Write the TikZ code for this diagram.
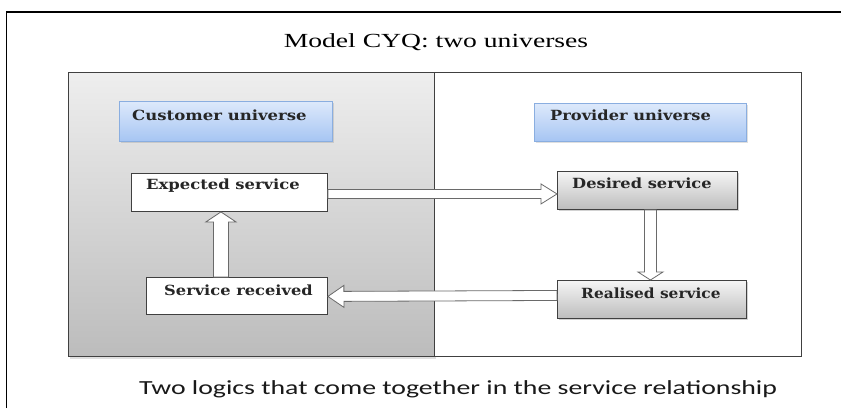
\documentclass[tikz,border=0pt]{standalone}
\usepackage{fontspec}
\setmainfont{Liberation Serif}
\newfontfamily\boxfont{DejaVu Serif}
\newfontfamily\capfont{Carlito}
\usetikzlibrary{calc,shadows}
\definecolor{panelTop}{HTML}{EEEEEE}
\definecolor{panelBot}{HTML}{BCBCBC}
\definecolor{blueTop}{HTML}{DDE9FB}
\definecolor{blueBot}{HTML}{A6C5F3}
\definecolor{blueEdge}{HTML}{8AAEE0}
\definecolor{greyTop}{HTML}{F5F5F5}
\definecolor{greyBot}{HTML}{BDBDBD}
\definecolor{edge}{HTML}{404040}
\definecolor{arrEdge}{HTML}{6A6A6A}
\newcommand\wide[2]{\scalebox{#1}[1]{#2}}
\tikzset{
  panel/.style={draw=edge, line width=1pt, inner sep=0pt, anchor=north west},
  bluebox/.style={draw=blueEdge, line width=0.8pt, top color=blueTop, bottom color=blueBot, inner sep=0pt, anchor=north west,
     drop shadow={shadow xshift=1.5pt, shadow yshift=-1.5pt, opacity=0.25}},
  whitebox/.style={draw=edge, line width=0.9pt, fill=white, inner sep=0pt, anchor=north west},
  greybox/.style={draw=edge, line width=0.9pt, top color=greyTop, bottom color=greyBot, inner sep=0pt, anchor=north west,
     drop shadow={shadow xshift=2pt, shadow yshift=-2pt, opacity=0.35}},
  boxtext/.style={anchor=base west, inner sep=0pt, font=\boxfont\bfseries\fontsize{14}{16}\selectfont, text=black!85},
  barrow/.style={draw=arrEdge, fill=white, line width=0.8pt, line join=miter}
}
% block arrow: #1 from, #2 to, #3 shaft half width, #4 head half width, #5 head length
\newcommand\blockarrow[5]{%
  \draw[barrow] let \p1=(#1), \p2=(#2), \n1={atan2(\y2-\y1,\x2-\x1)}, \n2={veclen(\x2-\x1,\y2-\y1)} in
    [shift={(\p1)}, rotate=\n1]
    (0pt,-#3) -- ({\n2*1pt-#5},-#3) -- ({\n2*1pt-#5},-#4) -- ({\n2*1pt},0pt)
    -- ({\n2*1pt-#5},#4) -- ({\n2*1pt-#5},#3) -- (0pt,#3) -- cycle;}
\begin{document}
\begin{tikzpicture}[x=1pt,y=-1pt]
\useasboundingbox (0,0) rectangle (841,408);
\fill[white] (0,0) rectangle (841,408);
% outer frame (cut by the page on the right and bottom)
\draw[line width=1.5pt] (6.5,408) -- (6.5,12) -- (841,12);
% title
\node[anchor=base, inner sep=0pt, font=\fontsize{20}{24}\selectfont] (title) at (436,47) {\wide{1.38}{Model CYQ: two universes}};
% panels
\node[panel, minimum width=366pt, minimum height=284pt, top color=panelTop, bottom color=panelBot,
  drop shadow={shadow xshift=1pt, shadow yshift=-2pt, opacity=0.25}] (left) at (68,72) {};
\node[panel, minimum width=367pt, minimum height=284pt, fill=white] (right) at (434,72) {};
% universe labels
\node[bluebox, minimum width=213pt, minimum height=40pt] (cust) at (119,101) {};
\node[boxtext] (custT) at ([shift={(13pt,-19pt)}]cust.north west) {\wide{1.18}{Customer universe}};
\node[bluebox, minimum width=212pt, minimum height=38pt] (prov) at (534,103) {};
\node[boxtext] (provT) at ([shift={(16pt,-17pt)}]prov.north west) {\wide{1.16}{Provider universe}};
% service boxes
\node[whitebox, minimum width=196pt, minimum height=38pt] (exp) at (131,173) {};
\node[boxtext] (expT) at ([shift={(15pt,-16pt)}]exp.north west) {\wide{1.17}{Expected service}};
\node[whitebox, minimum width=181pt, minimum height=37pt] (rec) at (146,277) {};
\node[boxtext] (recT) at ([shift={(18pt,-18pt)}]rec.north west) {\wide{1.16}{Service received}};
\node[greybox, minimum width=180pt, minimum height=38pt] (des) at (557,171) {};
\node[boxtext] (desT) at ([shift={(15pt,-17pt)}]des.north west) {\wide{1.16}{Desired service}};
\node[greybox, minimum width=189pt, minimum height=38pt] (rea) at (557,280) {};
\node[boxtext] (reaT) at ([shift={(24pt,-18pt)}]rea.north west) {\wide{1.10}{Realised service}};
% block arrows
\blockarrow{[yshift=-1.5pt]exp.east}{[yshift=-1.5pt]exp.east -| des.west}{4.5pt}{10pt}{16pt}
\blockarrow{[yshift=4pt]rea.west}{[yshift=-0.5pt]rec.east}{5pt}{11pt}{16pt}
\blockarrow{[xshift=-16pt]rec.north}{[xshift=-16pt]rec.north |- exp.south}{7.5pt}{15pt}{10pt}
\blockarrow{[xshift=3pt]des.south}{[xshift=3pt]des.south |- rea.north}{6pt}{12.5pt}{8pt}
% caption
\node[anchor=base, inner sep=0pt, font=\capfont\fontsize{20}{24}\selectfont, text=black!90] (cap) at (458,394) {\wide{1.39}{Two logics that come together in the service relationship}};
\end{tikzpicture}
\end{document}
